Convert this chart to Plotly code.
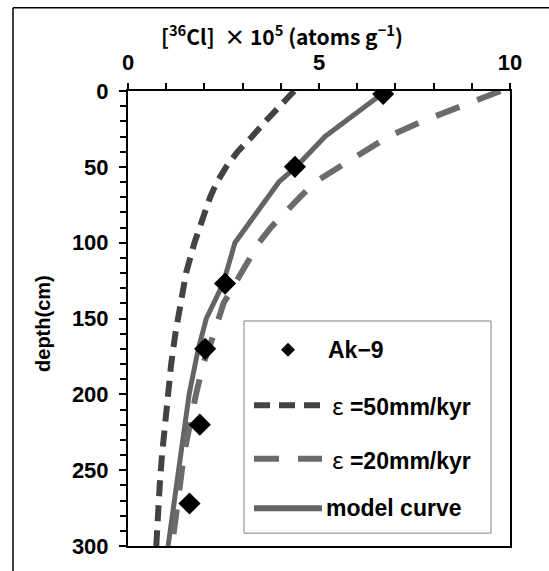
import plotly.graph_objects as go

# ---------------- data ----------------
ak9_depth = [2, 50, 127, 170, 220, 272]
ak9_cl = [6.68, 4.37, 2.54, 2.02, 1.88, 1.61]

eps50_depth = [0, 10, 20, 30, 40, 50, 60, 70, 80, 90, 100, 120, 140, 160, 180, 200, 220, 240, 260, 280, 300]
eps50_cl = [4.35, 3.95, 3.6, 3.25, 2.87, 2.57, 2.33, 2.15, 2.0, 1.86, 1.74, 1.52, 1.37, 1.24, 1.13, 1.04, 0.96, 0.89, 0.83, 0.78, 0.74]

eps20_depth = [0, 10, 20, 30, 40, 50, 60, 70, 80, 90, 100, 120, 140, 160, 180, 200, 220, 240, 260, 280, 300]
eps20_cl = [9.75, 8.72, 7.7, 6.82, 6.16, 5.52, 4.9, 4.5, 4.12, 3.74, 3.43, 2.95, 2.5, 2.25, 1.97, 1.78, 1.62, 1.46, 1.36, 1.25, 1.15]

model_depth = [0, 30, 50, 60, 100, 127, 150, 170, 200, 250, 300]
model_cl = [6.75, 5.16, 4.4, 3.95, 2.8, 2.49, 2.05, 1.84, 1.6, 1.32, 1.05]

EPS = "<span style='font-family:Noto Sans CJK JP;font-weight:normal'>\u03b5</span>"
legend_labels = ["Ak\u22129", EPS + " =50mm/kyr", EPS + " =20mm/kyr", "model curve"]

x_title = "[<sup>36</sup>Cl]  \u00d7 10<sup>5</sup> (atoms g<sup>\u22121</sup>)"
y_title = "depth(cm)"

# ---------------- styles ----------------
C50 = "#434343"
C20 = "#6b6b6b"
CM = "#646464"
DASH50 = "16px,9px"
DASH20 = "25px,19px"

# plot-area geometry in pixels
W_FIG, H_FIG = 549, 571
L, R, T, B = 128, 510, 91, 550
PW, PH = R - L, B - T


def px(x):
    return (x - L) / PW


def py(y):
    return (B - y) / PH


fig = go.Figure()

fig.add_trace(go.Scatter(x=eps50_cl, y=eps50_depth, mode="lines",
                         line=dict(color=C50, width=6, dash=DASH50),
                         showlegend=False, name="eps50"))
fig.add_trace(go.Scatter(x=model_cl, y=model_depth, mode="lines",
                         line=dict(color=CM, width=5),
                         showlegend=False, name="model"))
fig.add_trace(go.Scatter(x=eps20_cl, y=eps20_depth, mode="lines",
                         line=dict(color=C20, width=6, dash=DASH20),
                         showlegend=False, name="eps20"))
fig.add_trace(go.Scatter(x=ak9_cl, y=ak9_depth, mode="markers",
                         marker=dict(symbol="diamond", size=17, color="black",
                                     line=dict(width=0)),
                         showlegend=False, name="Ak-9"))

tickfont = dict(family="Liberation Sans, Arial, sans-serif", size=22, color="black", weight="bold")

fig.update_xaxes(range=[0, 10], side="top", tickmode="linear", tick0=0, dtick=5,
                 ticks="outside", ticklen=6, tickwidth=2, tickcolor="black",
                 minor=dict(dtick=1, ticks="outside", ticklen=6, tickwidth=2, tickcolor="black"),
                 showline=True, linewidth=2, linecolor="black", mirror=True,
                 showgrid=False, zeroline=False, tickfont=tickfont, ticklabelstandoff=4)
fig.update_yaxes(range=[300, 0], tickmode="linear", tick0=0, dtick=50,
                 ticks="outside", ticklen=7, tickwidth=2, tickcolor="black",
                 minor=dict(dtick=10, ticks="outside", ticklen=6, tickwidth=2, tickcolor="black"),
                 showline=True, linewidth=2, linecolor="black", mirror=True,
                 showgrid=False, zeroline=False, tickfont=tickfont, ticklabelstandoff=6)

shapes = []
annotations = []

# outer frame (left and top edges visible)
shapes.append(dict(type="line", xref="paper", yref="paper", x0=px(13), x1=px(13), y0=py(7), y1=py(600),
                   line=dict(color="black", width=1.5)))
shapes.append(dict(type="line", xref="paper", yref="paper", x0=px(13), x1=px(600), y0=py(7), y1=py(7),
                   line=dict(color="black", width=1.5)))

# legend box
shapes.append(dict(type="rect", xref="paper", yref="paper", x0=px(244), x1=px(491), y0=py(537), y1=py(323),
                   line=dict(color="#808080", width=1), fillcolor="white", layer="above"))

# legend symbols
dcx, dcy, dr = 288, 352, 7
shapes.append(dict(type="path", xref="paper", yref="paper",
                   path="M {} {} L {} {} L {} {} L {} {} Z".format(
                       px(dcx - dr), py(dcy), px(dcx), py(dcy - dr), px(dcx + dr), py(dcy), px(dcx), py(dcy + dr)),
                   fillcolor="black", line=dict(width=0), layer="above"))
shapes.append(dict(type="line", xref="paper", yref="paper", x0=px(254), x1=px(322), y0=py(408), y1=py(408),
                   line=dict(color=C50, width=6, dash=DASH50), layer="above"))
shapes.append(dict(type="line", xref="paper", yref="paper", x0=px(254), x1=px(322), y0=py(462), y1=py(462),
                   line=dict(color=C20, width=6, dash=DASH20), layer="above"))
shapes.append(dict(type="line", xref="paper", yref="paper", x0=px(254), x1=px(322), y0=py(512), y1=py(512),
                   line=dict(color=CM, width=6), layer="above"))

legfont = dict(family="Liberation Sans, Arial, sans-serif", size=23, color="black", weight="bold")
leg_text_x = [326, 330, 330, 324]
leg_text_y = [352, 408, 462, 512]
for lbl, lx, ly in zip(legend_labels, leg_text_x, leg_text_y):
    annotations.append(dict(text=lbl, xref="paper", yref="paper", x=px(lx), y=py(ly),
                            xanchor="left", yanchor="middle", showarrow=False, font=legfont))

# axis titles
annotations.append(dict(text=x_title, xref="paper", yref="paper", x=px(282), y=py(35),
                        xanchor="center", yanchor="middle", showarrow=False,
                        font=dict(family="Noto Sans CJK JP, sans-serif", size=21, color="black", weight="bold")))
annotations.append(dict(text=y_title, xref="paper", yref="paper", x=px(43), y=py(326),
                        xanchor="center", yanchor="middle", showarrow=False, textangle=-90,
                        font=dict(family="Liberation Sans, Arial, sans-serif", size=20, color="black", weight="bold")))

fig.update_layout(width=W_FIG, height=H_FIG,
                  margin=dict(l=L, r=W_FIG - R, t=T, b=H_FIG - B, pad=0),
                  paper_bgcolor="white", plot_bgcolor="white",
                  shapes=shapes, annotations=annotations, showlegend=False)

fig.write_html("out.html")
